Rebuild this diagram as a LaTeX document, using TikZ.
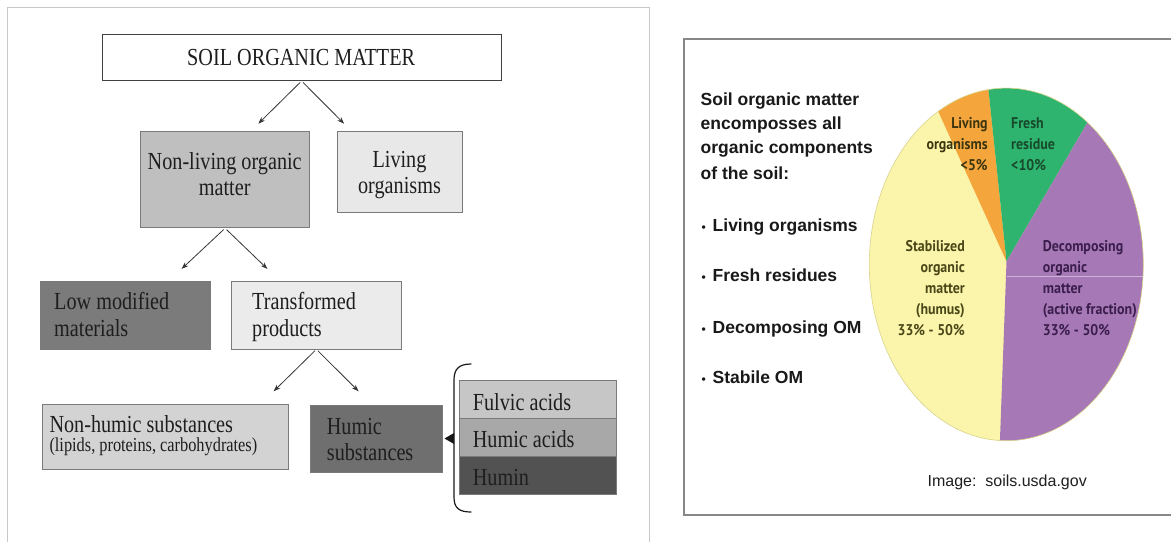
\documentclass[tikz,border=0pt]{standalone}
\usepackage{fontspec}
\usetikzlibrary{arrows.meta}
\newfontfamily\tms[FakeStretch=0.825]{Liberation Serif}
\newfontfamily\arl{Liberation Sans}
\newfontfamily\pts[FakeStretch=0.9]{PT Sans}

\definecolor{frameL}{HTML}{C8C8C8}
\definecolor{frameR}{HTML}{878787}
\definecolor{edge}{HTML}{7A7A7A}
\definecolor{ink}{HTML}{1E1E1E}
\definecolor{gNonliving}{HTML}{BFBFBF}
\definecolor{gLiving}{HTML}{E8E8E8}
\definecolor{gLow}{HTML}{7B7B7B}
\definecolor{gTrans}{HTML}{EBEBEB}
\definecolor{gNonhumic}{HTML}{D3D3D3}
\definecolor{gHumic}{HTML}{6F6F6F}
\definecolor{gFulvic}{HTML}{C6C6C6}
\definecolor{gHumicAc}{HTML}{A8A8A8}
\definecolor{gHumin}{HTML}{525252}
\definecolor{pieYellow}{HTML}{FBF5AB}
\definecolor{pieOrange}{HTML}{F4A63D}
\definecolor{pieGreen}{HTML}{2FB46F}
\definecolor{piePurple}{HTML}{A679B6}
\definecolor{txtYellow}{HTML}{4A4718}
\definecolor{txtOrange}{HTML}{3B3510}
\definecolor{txtGreen}{HTML}{174A2C}
\definecolor{txtPurple}{HTML}{3B1E4D}

\newcommand{\bul}{\makebox[11pt][l]{\fontsize{12}{12}\selectfont •}}

\begin{document}
\begin{tikzpicture}[x=1pt,y=-1pt,
  box/.style={draw=edge, line width=0.8pt, inner sep=0pt, anchor=north west},
  arr/.style={draw=ink!90, line width=0.8pt, -{Stealth[length=7pt,width=5pt]}, shorten <=2pt},
  serif/.style={inner sep=0pt, text=ink, font=\tms\fontsize{24.5}{26}\selectfont},
  serifsmall/.style={inner sep=0pt, text=ink, font=\tms\fontsize{19.8}{21}\selectfont},
  title/.style={inner sep=0pt, anchor=base west, text=black!90, font=\arl\bfseries\fontsize{17.5}{20}\selectfont},
  pietxt/.style={inner sep=0pt, font=\pts\bfseries\fontsize{15.5}{16}\selectfont}
]
\useasboundingbox (0,0) rectangle (1171,542);
\fill[white] (0,0) rectangle (1171,542);

% ---------- left panel: hierarchy of soil organic matter ----------
\draw[frameL, line width=0.8pt] (7.5,542) -- (7.5,7.5) -- (649,7.5) -- (649,542);

\node[box, draw=black!75, fill=white, minimum width=399.2pt, minimum height=46.7pt] (som) at (101.6,33.5) {};
\node[box, fill=gNonliving, minimum width=169.2pt, minimum height=96.7pt] (nonliving) at (140.1,130.7) {};
\node[box, fill=gLiving, minimum width=125.7pt, minimum height=81.5pt] (living) at (336.6,130.7) {};
\node[box, fill=gLow, minimum width=170pt, minimum height=67.7pt] (lowmod) at (40.2,280.8) {};
\node[box, fill=gTrans, minimum width=170pt, minimum height=67.7pt] (transf) at (231,280.8) {};
\node[box, fill=gNonhumic, minimum width=246.1pt, minimum height=65pt] (nonhumic) at (41.6,404.4) {};
\node[box, fill=gHumic, minimum width=131.5pt, minimum height=66.8pt] (humic) at (310.1,405) {};
\node[box, fill=gFulvic, minimum width=156.3pt, minimum height=38.1pt] (fulvic) at (459.4,380.2) {};
\node[box, fill=gHumicAc, minimum width=156.3pt, minimum height=37.3pt] (humicac) at (459.4,418.3) {};
\node[box, fill=gHumin, minimum width=156.3pt, minimum height=38.7pt] (humin) at (459.4,455.6) {};

% box labels
\node[serif, anchor=base] (tsom) at (301.2,65) {SOIL ORGANIC MATTER};
\node[serif, anchor=base] (tnl1) at (224.7,169.4) {Non-living organic};
\node[serif, anchor=base] (tnl2) at (224.7,195.3) {matter};
\node[serif, anchor=base] (tlv1) at (399.5,167.6) {Living};
\node[serif, anchor=base] (tlv2) at (399.5,193.6) {organisms};
\node[serif, anchor=base west] (tlm1) at (54,309.5) {Low modified};
\node[serif, anchor=base west] (tlm2) at (54,336) {materials};
\node[serif, anchor=base west] (ttp1) at (252,309.5) {Transformed};
\node[serif, anchor=base west] (ttp2) at (252,336) {products};
\node[serif, anchor=base west] (tnh1) at (49.3,432.5) {Non-humic substances};
\node[serifsmall, anchor=base west] (tnh2) at (49.3,451) {(lipids, proteins, carbohydrates)};
\node[serif, anchor=base west] (ths1) at (326.7,434) {Humic};
\node[serif, anchor=base west] (ths2) at (326.7,460) {substances};
\node[serif, anchor=base west] (tfa) at (472.7,410) {Fulvic acids};
\node[serif, anchor=base west] (tha) at (472.7,447.3) {Humic acids};
\node[serif, anchor=base west] (thu) at (472.7,485) {Humin};

% connectors
\coordinate (e1) at (258.3,123.7);
\coordinate (e2) at (344.1,123.7);
\coordinate (e3) at (181.6,268.9);
\coordinate (e4) at (267.4,268.9);
\coordinate (e5) at (273.6,391.3);
\coordinate (e6) at (358.6,391.3);
\draw[arr] (som.south) -- (e1);
\draw[arr] (som.south) -- (e2);
\draw[arr] (nonliving.south) -- (e3);
\draw[arr] (nonliving.south) -- (e4);
\draw[arr] (transf.south) -- (e5);
\draw[arr] (transf.south) -- (e6);

% brace grouping the humic fractions
\draw[black!90, line width=1.2pt, line cap=round]
  (471,364) .. controls (459,364) and (454,369) .. (454,380) -- (454,497)
  .. controls (454,508) and (459,512) .. (471,512);
\fill[black!90] (454,433) -- (444.5,438.5) -- (454,444) -- cycle;

% ---------- right panel: composition pie ----------
\draw[frameR, line width=2pt] (1172,39) -- (684.2,39) -- (684.2,515) -- (1172,515);

\node[title] (h1) at (700.5,105.4) {Soil organic matter};
\node[title] (h2) at (700.5,129.6) {encomposses all};
\node[title] (h3) at (700.5,153.8) {organic components};
\node[title] (h4) at (700.5,179) {of the soil:};
\node[title] (b1) at (701.5,231.6) {\bul Living organisms};
\node[title] (b2) at (701.5,281.7) {\bul Fresh residues};
\node[title] (b3) at (701.5,333.6) {\bul Decomposing OM};
\node[title] (b4) at (701.5,383.7) {\bul Stabile OM};

\coordinate (apex) at (1006.5,261.5);
\begin{scope}
  \clip (1006.3,264.4) ellipse [x radius=137, y radius=176.3];
  \fill[pieYellow] (1006.3,264.4) ellipse [x radius=137, y radius=176.3];
  \fill[pieOrange] (apex) -- (924.7,81.7) -- (984.7,53.7) -- cycle;
  \fill[pieGreen] (apex) -- (984.7,53.7) -- (1111.5,81.1) -- cycle;
  \fill[piePurple] (apex) -- (1111.5,81.1) -- (1170,60) -- (1170,470) -- (999.3,457.9) -- cycle;
  \draw[piePurple!55!white, line width=0.8pt] (1006.5,276.7) -- (1150,276.7);
\end{scope}
\draw[olive!35, line width=0.6pt] (1006.3,264.4) ellipse [x radius=137, y radius=176.3];

\node[pietxt, text=txtOrange, anchor=base east] (lo1) at (987.9,128) {Living};
\node[pietxt, text=txtOrange, anchor=base east] (lo2) at (987.9,149) {organisms};
\node[pietxt, text=txtOrange, anchor=base east] (lo3) at (987.9,170) {<5\%};
\node[pietxt, text=txtGreen, anchor=base west] (fr1) at (1011,128) {Fresh};
\node[pietxt, text=txtGreen, anchor=base west] (fr2) at (1011,149) {residue};
\node[pietxt, text=txtGreen, anchor=base west] (fr3) at (1011,170) {<10\%};
\node[pietxt, text=txtYellow, anchor=base east] (st1) at (965,251.7) {Stabilized};
\node[pietxt, text=txtYellow, anchor=base east] (st2) at (965,272.7) {organic};
\node[pietxt, text=txtYellow, anchor=base east] (st3) at (965,293.7) {matter};
\node[pietxt, text=txtYellow, anchor=base east] (st4) at (965,314.7) {(humus)};
\node[pietxt, text=txtYellow, anchor=base east] (st5) at (965,335.7) {33\% - 50\%};
\node[pietxt, text=txtPurple, anchor=base west] (dc1) at (1042.7,251.7) {Decomposing};
\node[pietxt, text=txtPurple, anchor=base west] (dc2) at (1042.7,272.7) {organic};
\node[pietxt, text=txtPurple, anchor=base west] (dc3) at (1042.7,293.7) {matter};
\node[pietxt, text=txtPurple, anchor=base west] (dc4) at (1042.7,314.7) {(active fraction)};
\node[pietxt, text=txtPurple, anchor=base west] (dc5) at (1042.7,335.7) {33\% - 50\%};

\node[inner sep=0pt, anchor=base west, text=black!88, font=\arl\fontsize{16}{18}\selectfont] (credit) at (927.4,486) {Image:\ \ soils.usda.gov};
\end{tikzpicture}
\end{document}
